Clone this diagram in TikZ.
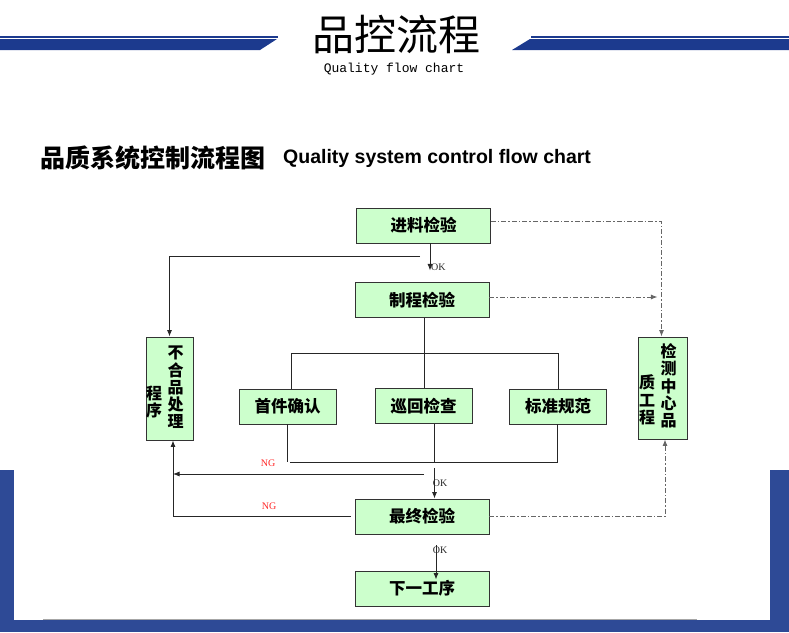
\documentclass[tikz,border=0pt]{standalone}
\usepackage{fontspec}
\setmainfont{Liberation Serif}
\newfontfamily\cjk{Noto Sans CJK SC}
\newfontfamily\arialfont{Liberation Sans}
\newfontfamily\monofont{Liberation Mono}
\usetikzlibrary{arrows.meta}
\definecolor{boxgreen}{HTML}{CCFFCC}
\definecolor{bandblue}{HTML}{1C3A8E}
\definecolor{frameblue}{HTML}{2E4A96}
\tikzset{
  proc/.style={draw=black!80,fill=boxgreen,line width=0.9pt,inner sep=0pt,minimum width=134pt,minimum height=35pt,font=\cjk\bfseries\fontsize{16.5}{17}\selectfont},
  subproc/.style={proc,minimum width=97pt},
  side/.style={proc,minimum width=48pt,minimum height=103pt},
  vtext/.style={inner sep=0pt,align=center,font=\cjk\bfseries\fontsize{16}{17.3}\selectfont},
  flow/.style={draw=black!85,line width=0.8pt},
  arr/.style={flow,-{Latex[length=6.5pt,width=5pt]}},
  dd/.style={draw=black!60,line width=0.9pt,dash pattern=on 5pt off 2pt on 1.5pt off 2pt},
  ddarr/.style={dd,-{Latex[length=6.5pt,width=5pt]}},
  oklab/.style={inner sep=0pt,font=\fontsize{10}{10}\selectfont,text=black!85},
  nglab/.style={oklab,text=red!85!white},
}
\begin{document}
\begin{tikzpicture}[x={(1pt,0)},y={(0,-1pt)}]
\useasboundingbox (0,0) rectangle (789,632);
% header bands
\fill[bandblue] (0,36) rectangle (278,37.5);
\fill[bandblue] (0,39) -- (277,39) -- (260,50) -- (0,50) -- cycle;
\fill[bandblue] (531,36) rectangle (789,37.5);
\fill[bandblue] (530,39) -- (789,39) -- (789,50) -- (512,50) -- cycle;
\node[font=\cjk\fontsize{42}{42}\selectfont] (title) at (396,35) {品控流程};
\node[font=\monofont\fontsize{13}{13}\selectfont] (subtitle) at (394,69) {Quality flow chart};
\node[anchor=west,inner sep=0pt,font=\cjk\bfseries\fontsize{25}{25}\selectfont] (headcn) at (40,158) {品质系统控制流程图};
\node[anchor=west,inner sep=0pt,font=\arialfont\bfseries\fontsize{19.5}{20}\selectfont] (headen) at (283,158) {Quality system control flow chart};
% frame
\fill[frameblue] (0,470) rectangle (14,632);
\fill[frameblue] (770,470) rectangle (789,632);
\fill[frameblue] (0,620) rectangle (789,632);
\draw[black!35,line width=1pt] (43,619) -- (697,619);
% boxes
\node[proc] (jl) at (423.5,225.5) {进料检验};
\node[proc] (zc) at (422,300) {制程检验};
\node[subproc] (sj) at (287.5,406.5) {首件确认};
\node[subproc] (xh) at (423.5,406) {巡回检查};
\node[subproc] (bz) at (558,406.5) {标准规范};
\node[proc] (zz) at (422,516.5) {最终检验};
\node[proc] (xy) at (422,588.5) {下一工序};
\node[side,minimum width=47pt] (bh) at (169.5,388.5) {};
\node[vtext] (bhA) at (175.7,387.5) {不\\合\\品\\处\\理};
\node[vtext] (bhB) at (154,402) {程\\序};
\node[side,minimum width=49pt,minimum height=102pt] (jc) at (662.5,388) {};
\node[vtext] (jcA) at (668.6,386) {检\\测\\中\\心\\品};
\node[vtext] (jcB) at (647,400) {质\\工\\程};
% connectors
\draw[arr] ([xshift=6.5pt]jl.south) -- ++(0,27) coordinate (okA);
\node[oklab,anchor=west] (okAl) at ([xshift=1pt,yshift=3pt]okA) {OK};
\coordinate (ngA) at (420,256);
\draw[arr] (ngA) -| (bh.north);
\draw[flow] ([xshift=2.5pt]zc.south) -- ++(0,35) coordinate (fork);
\draw[flow] ([xshift=3.5pt]sj.north) |- (fork) -| (bz.north);
\draw[flow] (fork) -- (fork |- xh.north);
\draw[flow] (sj.south) -- ++(0,38) coordinate (joinL);
\draw[flow] ([xshift=11pt]xh.south) -- ++(0,39) coordinate (joinM);
\draw[flow] ([xshift=-1pt]bz.south) |- ([xshift=2pt]joinL);
\coordinate (ngB) at (424,474);
\coordinate (ngC) at ([xshift=3.5pt]bh.south);
\draw[arr] (ngB) -- (ngB -| ngC);
\node[nglab] (ngBl) at (268,463) {NG};
\draw[arr] ([yshift=-5pt]joinM) -- (joinM |- zz.north);
\node[oklab] (okB) at (440,483) {OK};
\draw[arr] ([xshift=-4pt]zz.west) -| (ngC);
\node[nglab] (ngCl) at (269,506) {NG};
\draw[ddarr] (zz.east) -| ([xshift=2.5pt]jc.south);
\draw[ddarr] ([yshift=4pt]jl.east) -| ([xshift=-1pt]jc.north);
\draw[ddarr] ([yshift=3pt]zc.east) -- ++(168,0);
\draw[arr] ([xshift=14pt,yshift=-11pt]zz.south) -- ([xshift=14pt,yshift=-9pt]xy.north);
\node[oklab] (okC) at (440,550) {OK};
\end{tikzpicture}
\end{document}
